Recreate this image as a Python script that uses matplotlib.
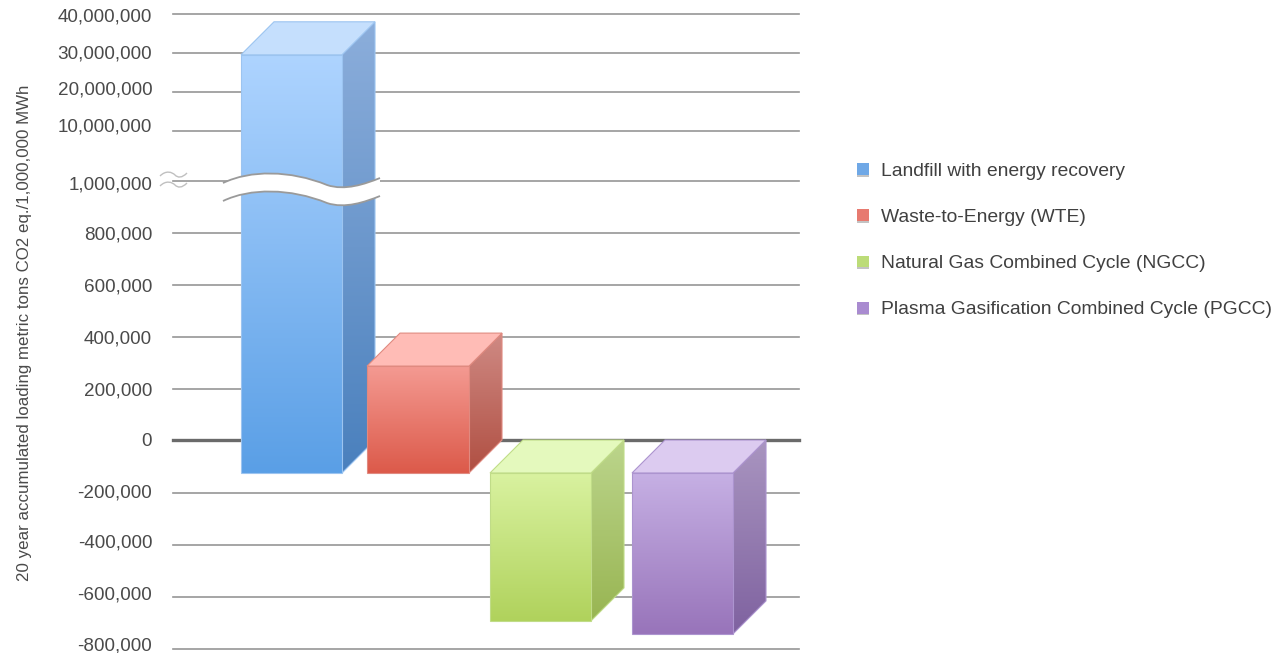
import numpy as np
import matplotlib
matplotlib.use('Agg')
import matplotlib.pyplot as plt
import matplotlib.patheffects as pe
from matplotlib.colors import LinearSegmentedColormap
from matplotlib.patches import Patch, PathPatch, Polygon
from matplotlib.path import Path
from matplotlib.transforms import Affine2D

plt.rcParams['font.family'] = ['Liberation Sans', 'DejaVu Sans']

categories = ['Landfill with energy recovery', 'Waste-to-Energy (WTE)',
              'Natural Gas Combined Cycle (NGCC)', 'Plasma Gasification Combined Cycle (PGCC)']
values = [38000000, 415000, -565000, -615000]
tick_values = [-800000, -600000, -400000, -200000, 0, 200000, 400000, 600000, 800000,
               1000000, 10000000, 20000000, 30000000, 40000000]
tick_labels = ['-800,000', '-600,000', '-400,000', '-200,000', '0', '200,000', '400,000',
               '600,000', '800,000', '1,000,000', '10,000,000', '20,000,000', '30,000,000', '40,000,000']
ylabel = '20 year accumulated loading metric tons CO2 eq./1,000,000 MWh'

# Broken axis: where each tick sits, in pixels from the top of the image
tick_rows = [649, 597, 545, 493, 440, 389, 337, 285, 233, 181, 131, 92, 53, 14]
label_nudge = [5, 4, 4, 2, 0, 0, 0, 0, 0, -2, 6, 4, 1, -1]

# Layout of the bars, pixels
front_left = [241, 367, 490, 632]
front_width = [101, 102, 101, 101]
depth = 33

# (front top, front bottom, side top, side bottom, top face, edge)
bar_colors = [('#aed4ff', '#5a9fe6', '#8caedb', '#4a80bd', '#c5dffd', '#9cc4f0'),
              ('#f49a92', '#dc5a4a', '#cf8a84', '#b04f42', '#ffbcb6', '#e08a80'),
              ('#d9f2a0', '#b0d25c', '#bcd58c', '#98b552', '#e4f9bd', '#c0dc88'),
              ('#c6b0e4', '#9874ba', '#a995c0', '#7f62a0', '#dccbf0', '#ac94cf')]
legend_colors = ['#6fa8e6', '#e77a70', '#bcdc78', '#a98bd0']

W, H = 1276, 653
fig = plt.figure(figsize=(W / 100, H / 100), dpi=100)
ax = fig.add_axes([173 / W, 1 - 649 / H, (799 - 173) / W, (649 - 14) / H])

rows_up = 649 - np.array(tick_rows, dtype=float)
ax.set_yscale('function', functions=(lambda v: np.interp(v, tick_values, rows_up),
                                     lambda p: np.interp(p, rows_up, tick_values)))
ax.set_ylim(-800000, 40000000)
ax.set_xlim(173, 799)
ax.set_xticks([])
ax.set_yticks(tick_values)
ax.set_yticklabels(tick_labels)
ax.minorticks_off()
ax.tick_params(axis='y', length=0, pad=15, labelsize=13.6, labelcolor='#4a4a4a')
for s in ax.spines.values():
    s.set_visible(False)
ax.grid(axis='y', color='#969696', linewidth=1.2)
for line in ax.get_ygridlines():
    line.set_clip_on(False)
ax.axhline(0, color='#6a6a6a', linewidth=2.4, clip_on=False)
ax.set_axisbelow(True)

for lab, n in zip(ax.get_yticklabels(), label_nudge):
    lab.set_transform(lab.get_transform() + Affine2D().translate(0, n))

ax.set_ylabel(ylabel, fontsize=12.2, color='#4a4a4a')
ax.yaxis.set_label_coords(32 / W, 1 - 333 / H, transform=fig.transFigure)

# Overlay in image pixels for the 3D faces
ov = fig.add_axes([0, 0, 1, 1], zorder=5)
ov.set_xlim(0, W)
ov.set_ylim(H, 0)
ov.axis('off')


def value_row(v):
    return H - ax.transData.transform((173, v))[1]


def shaded(poly, c_top, c_bottom, y0, y1, edge, z):
    # vertical gradient clipped to the polygon
    xs = [p[0] for p in poly]
    cmap = LinearSegmentedColormap.from_list('f', [c_top, c_bottom])
    img = ov.imshow(np.linspace(0, 1, 256).reshape(-1, 1), cmap=cmap, aspect='auto',
                    extent=(min(xs), max(xs), y1, y0), zorder=z)
    p = Polygon(poly, closed=True, facecolor='none', edgecolor=edge, linewidth=0.8, zorder=z + 0.1)
    ov.add_patch(p)
    img.set_clip_path(p)


for i in range(len(values)):
    top = value_row(max(values[i], 0))
    bottom = value_row(min(values[i], 0))
    x0 = front_left[i]
    x1 = x0 + front_width[i]
    ft, fb = top + depth, bottom + depth
    c = bar_colors[i]
    z = 3 + i
    shaded([(x1, ft), (x1 + depth, top), (x1 + depth, bottom), (x1, fb)], c[2], c[3], top, fb, c[5], z)
    ov.add_patch(Polygon([(x0, ft), (x0 + depth, top), (x1 + depth, top), (x1, ft)],
                         closed=True, facecolor=c[4], edgecolor=c[5], linewidth=0.8, zorder=z + 0.2))
    shaded([(x0, ft), (x1, ft), (x1, fb), (x0, fb)], c[0], c[1], ft, fb, c[5], z + 0.3)

ov.set_xlim(0, W)
ov.set_ylim(H, 0)


# Break band across the tall bar
def wave(dy):
    return [(223, 183 + dy), (250, 170 + dy), (290, 170 + dy), (327, 185 + dy),
            (345, 191 + dy), (365, 184 + dy), (380, 178 + dy)]


codes = [Path.MOVETO] + [Path.CURVE4] * 6
up, low = wave(0), wave(18)
band = Path(up + [low[-1]] + low[-2::-1] + [up[0]],
            codes + [Path.LINETO] + [Path.CURVE4] * 6 + [Path.LINETO])
ov.add_patch(PathPatch(band, facecolor='white', edgecolor='none', zorder=20))
for w in (up, low):
    ov.add_patch(PathPatch(Path(w, codes), facecolor='none', edgecolor='#9a9a9a', linewidth=1.3, zorder=21))

# Little break mark on the axis
for dy in (0, 10):
    m = [(160, 176 + dy), (166, 170 + dy), (172, 172 + dy), (175, 175 + dy),
         (178, 178 + dy), (182, 178 + dy), (187, 173 + dy)]
    ov.add_patch(PathPatch(Path(m, codes), edgecolor='#c0c0c0', fill=False, linewidth=1.0, zorder=21))

handles = [Patch(facecolor=col, edgecolor='none',
                 path_effects=[pe.withSimplePatchShadow(offset=(0, -1.2), shadow_rgbFace='#888888', alpha=0.5)])
           for col in legend_colors]
ov.legend(handles, categories, loc='upper left', bbox_to_anchor=(857 / W, 1 - 163 / H),
          bbox_transform=fig.transFigure, frameon=False, fontsize=13.9, labelcolor='#404040',
          handlelength=0.62, handleheight=0.57, handletextpad=0.62, labelspacing=1.51,
          borderpad=0, borderaxespad=0)

fig.savefig('out.png', dpi=100)
